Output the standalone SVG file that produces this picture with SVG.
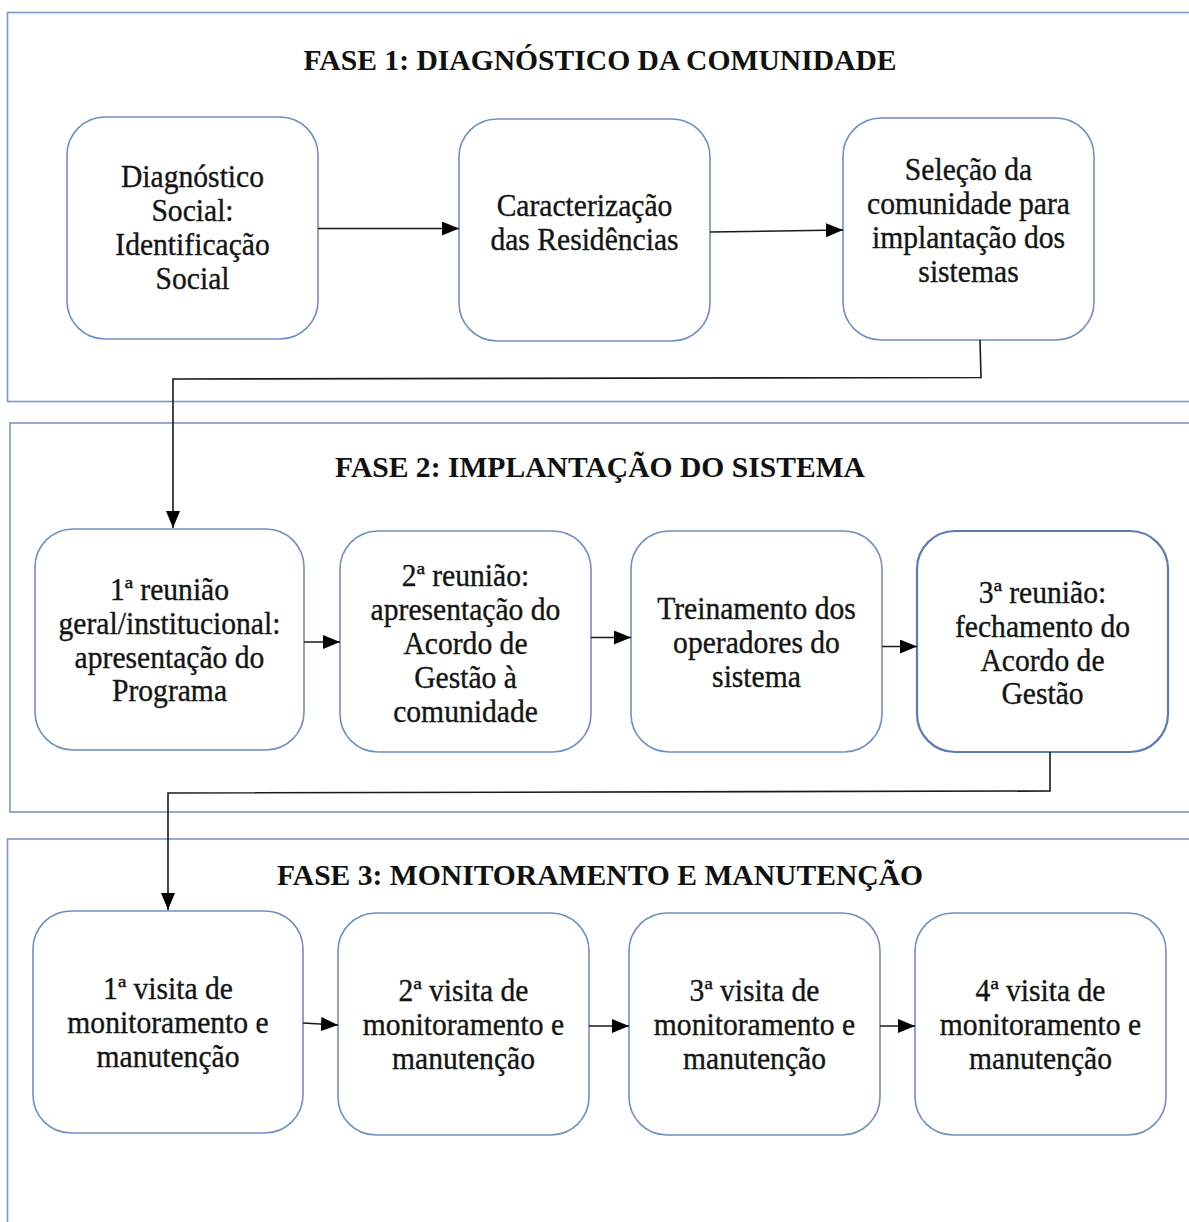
<svg xmlns="http://www.w3.org/2000/svg" width="1189" height="1222" viewBox="0 0 1189 1222">
<style>
.frame{fill:none;stroke:#7b98c6;stroke-width:1.6}
.box{fill:#fff;stroke:#6f8fc2;stroke-width:1.6}
.box-strong{fill:#fff;stroke:#5b7db3;stroke-width:2.2}
.title{font-family:"Liberation Serif","Times New Roman",serif;font-size:29.6px;font-weight:bold;fill:#111;text-anchor:middle}
.lbl{font-family:"Liberation Serif","Times New Roman",serif;font-size:31px;fill:#141414;stroke:#141414;stroke-width:0.35;text-anchor:middle}
.conn{fill:none;stroke:#1a1a1a;stroke-width:1.6}
</style>
<defs>
<marker id="arr" markerUnits="userSpaceOnUse" markerWidth="18" markerHeight="15" refX="17" refY="7" orient="auto">
<path d="M0,0 L17,7 L0,14 z" fill="#000"/>
</marker>
</defs>
<rect width="1189" height="1222" fill="#fff"/>

<g id="phase1">
<rect class="frame" x="7.5" y="12.5" width="1200" height="389"/>
<text class="title" x="600" y="70">FASE 1: DIAGNÓSTICO DA COMUNIDADE</text>
</g>
<g id="phase2">
<rect class="frame" x="10" y="423" width="1200" height="389"/>
<text class="title" x="600" y="477">FASE 2: IMPLANTAÇÃO DO SISTEMA</text>
</g>
<g id="phase3">
<rect class="frame" x="7.5" y="839" width="1200" height="400"/>
<text class="title" x="600" y="885">FASE 3: MONITORAMENTO E MANUTENÇÃO</text>
</g>

<g id="p1n1">
<rect class="box" x="67" y="117" width="251" height="222" rx="38"/>
<g transform="translate(192.5 0) scale(0.955 1)">
<text class="lbl" x="0" y="187">Diagnóstico</text>
<text class="lbl" x="0" y="221">Social:</text>
<text class="lbl" x="0" y="255">Identificação</text>
<text class="lbl" x="0" y="289">Social</text>
</g>
</g>
<g id="p1n2">
<rect class="box" x="459" y="119" width="251" height="222" rx="38"/>
<g transform="translate(584.5 0) scale(0.955 1)">
<text class="lbl" x="0" y="216">Caracterização</text>
<text class="lbl" x="0" y="250">das Residências</text>
</g>
</g>
<g id="p1n3">
<rect class="box" x="843" y="118" width="251" height="222" rx="38"/>
<g transform="translate(968.5 0) scale(0.955 1)">
<text class="lbl" x="0" y="180">Seleção da</text>
<text class="lbl" x="0" y="214">comunidade para</text>
<text class="lbl" x="0" y="248">implantação dos</text>
<text class="lbl" x="0" y="282">sistemas</text>
</g>
</g>

<g id="p2n1">
<rect class="box" x="35" y="529" width="269" height="221" rx="38"/>
<g transform="translate(169.5 0) scale(0.955 1)">
<text class="lbl" x="0" y="600">1ª reunião</text>
<text class="lbl" x="0" y="634">geral/institucional:</text>
<text class="lbl" x="0" y="668">apresentação do</text>
<text class="lbl" x="0" y="701">Programa</text>
</g>
</g>
<g id="p2n2">
<rect class="box" x="340" y="531" width="251" height="221" rx="38"/>
<g transform="translate(465.5 0) scale(0.955 1)">
<text class="lbl" x="0" y="586">2ª reunião:</text>
<text class="lbl" x="0" y="620">apresentação do</text>
<text class="lbl" x="0" y="654">Acordo de</text>
<text class="lbl" x="0" y="688">Gestão à</text>
<text class="lbl" x="0" y="722">comunidade</text>
</g>
</g>
<g id="p2n3">
<rect class="box" x="631" y="531" width="251" height="221" rx="38"/>
<g transform="translate(756.5 0) scale(0.955 1)">
<text class="lbl" x="0" y="619">Treinamento dos</text>
<text class="lbl" x="0" y="653">operadores do</text>
<text class="lbl" x="0" y="687">sistema</text>
</g>
</g>
<g id="p2n4">
<rect class="box-strong" x="917" y="531" width="251" height="221" rx="38"/>
<g transform="translate(1042.5 0) scale(0.955 1)">
<text class="lbl" x="0" y="603">3ª reunião:</text>
<text class="lbl" x="0" y="637">fechamento do</text>
<text class="lbl" x="0" y="671">Acordo de</text>
<text class="lbl" x="0" y="704">Gestão</text>
</g>
</g>

<g id="p3n1">
<rect class="box" x="33" y="911" width="270" height="222" rx="38"/>
<g transform="translate(168 0) scale(0.955 1)">
<text class="lbl" x="0" y="999">1ª visita de</text>
<text class="lbl" x="0" y="1033">monitoramento e</text>
<text class="lbl" x="0" y="1067">manutenção</text>
</g>
</g>
<g id="p3n2">
<rect class="box" x="338" y="913" width="251" height="222" rx="38"/>
<g transform="translate(463.5 0) scale(0.955 1)">
<text class="lbl" x="0" y="1001">2ª visita de</text>
<text class="lbl" x="0" y="1035">monitoramento e</text>
<text class="lbl" x="0" y="1069">manutenção</text>
</g>
</g>
<g id="p3n3">
<rect class="box" x="629" y="913" width="251" height="222" rx="38"/>
<g transform="translate(754.5 0) scale(0.955 1)">
<text class="lbl" x="0" y="1001">3ª visita de</text>
<text class="lbl" x="0" y="1035">monitoramento e</text>
<text class="lbl" x="0" y="1069">manutenção</text>
</g>
</g>
<g id="p3n4">
<rect class="box" x="915" y="913" width="251" height="222" rx="38"/>
<g transform="translate(1040.5 0) scale(0.955 1)">
<text class="lbl" x="0" y="1001">4ª visita de</text>
<text class="lbl" x="0" y="1035">monitoramento e</text>
<text class="lbl" x="0" y="1069">manutenção</text>
</g>
</g>

<g id="connectors">
<path class="conn" d="M318,228.5 L459,228.5" marker-end="url(#arr)"/>
<path class="conn" d="M710,232 L843,230" marker-end="url(#arr)"/>
<path class="conn" d="M980,340 L981,377.5 L173,379 L173,528" marker-end="url(#arr)"/>
<path class="conn" d="M304,642 L340,642" marker-end="url(#arr)"/>
<path class="conn" d="M591,637.5 L631,637.5" marker-end="url(#arr)"/>
<path class="conn" d="M882,646.5 L917,646.5" marker-end="url(#arr)"/>
<path class="conn" d="M1050,752 L1050,791 L168,793 L168,910" marker-end="url(#arr)"/>
<path class="conn" d="M303,1023 L338,1025" marker-end="url(#arr)"/>
<path class="conn" d="M589,1026 L629,1026" marker-end="url(#arr)"/>
<path class="conn" d="M880,1026 L915,1026" marker-end="url(#arr)"/>
</g>
</svg>
